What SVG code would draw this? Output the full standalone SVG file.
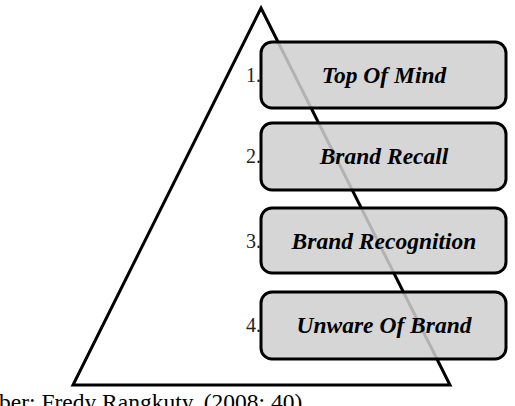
<svg xmlns="http://www.w3.org/2000/svg" width="515" height="406" viewBox="0 0 515 406">
<style>
.tri{fill:none;stroke:#000;stroke-width:3;stroke-linejoin:miter}
.box{fill:#cfcfcf;fill-opacity:0.86;stroke:#000;stroke-width:3}
.lbl{font-family:"Liberation Serif",serif;font-weight:bold;font-style:italic;font-size:23.5px;fill:#000;text-anchor:middle}
.num{font-family:"Liberation Serif",serif;font-size:20px;fill:#222;text-anchor:end}
.cap{font-family:"Liberation Serif",serif;font-size:23.5px;fill:#000}
</style>
<g id="pyramid"><path class="tri" d="M261,8 L450,385 L73,385 Z"/></g>
<g id="connectors"></g>
<g id="n1"><rect class="box" x="261" y="42" width="245" height="66" rx="11"/><text class="num" x="261" y="82">1.</text><text class="lbl" x="384" y="83">Top Of Mind</text></g>
<g id="n2"><rect class="box" x="261" y="123" width="245" height="67" rx="11"/><text class="num" x="261" y="163">2.</text><text class="lbl" x="384" y="164">Brand Recall</text></g>
<g id="n3"><rect class="box" x="261" y="208" width="245" height="65" rx="11"/><text class="num" x="261" y="248">3.</text><text class="lbl" x="384" y="249">Brand Recognition</text></g>
<g id="n4"><rect class="box" x="261" y="292" width="245" height="67" rx="11"/><text class="num" x="261" y="332">4.</text><text class="lbl" x="384" y="333">Unware Of Brand</text></g>
<text class="cap" x="-1" y="410">ber: Fredy Rangkuty, (2008; 40)</text>
</svg>
